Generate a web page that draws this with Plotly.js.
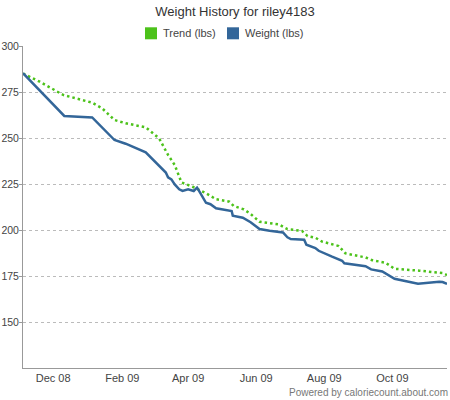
<!DOCTYPE html>
<html>
<head>
<meta charset="utf-8">
<script src="https://cdn.plot.ly/plotly-3.0.1.min.js"></script>
<style>html,body{margin:0;padding:0;background:#fff;}#chart{width:450px;height:400px;}</style>
</head>
<body>
<div id="chart"></div>
<script>
const weightDates = ["2008-11-04","2008-12-11","2009-01-05","2009-01-25","2009-02-04","2009-02-22","2009-03-12","2009-03-14","2009-03-17","2009-03-20","2009-03-24","2009-03-27","2009-04-01","2009-04-06","2009-04-09","2009-04-10","2009-04-17","2009-04-21","2009-04-26","2009-04-29","2009-05-10","2009-05-11","2009-05-20","2009-05-27","2009-06-04","2009-06-13","2009-06-25","2009-06-29","2009-07-02","2009-07-14","2009-07-16","2009-07-24","2009-07-27","2009-08-08","2009-08-17","2009-08-19","2009-09-07","2009-09-12","2009-09-22","2009-10-03","2009-10-14","2009-10-24","2009-11-12","2009-11-15","2009-11-19"];
const weightValues = [285.2,262.0,261.2,248.9,246.9,242.2,231.2,228.6,227.5,224.8,222.1,221.2,222.1,221.2,223.0,222.1,214.8,214.0,211.8,211.4,210.3,207.8,206.7,204.2,200.5,199.6,198.7,196.0,195.1,194.7,192.0,190.2,188.7,185.5,183.3,181.9,180.3,178.6,177.5,173.5,172.1,170.8,171.9,171.7,170.7];

const trendDates = ["2008-11-04","2008-11-19","2008-12-10","2009-01-05","2009-01-14","2009-01-25","2009-02-04","2009-02-22","2009-03-06","2009-03-14","2009-03-20","2009-03-26","2009-04-05","2009-04-17","2009-04-26","2009-05-08","2009-05-12","2009-05-21","2009-05-27","2009-06-04","2009-06-21","2009-06-29","2009-07-12","2009-07-17","2009-07-24","2009-07-30","2009-08-14","2009-08-20","2009-09-07","2009-09-13","2009-09-25","2009-10-03","2009-10-25","2009-11-15","2009-11-19"];
const trendValues = [285.0,280.6,273.4,269.2,266.1,259.8,258.0,255.8,249.8,240.8,235.3,225.9,223.5,220.0,216.7,215.4,213.0,211.2,208.7,204.5,203.1,200.5,199.5,196.7,195.8,193.7,191.3,187.3,185.1,183.6,182.2,178.9,177.9,176.6,175.5];

const seriesNames = ["Trend (lbs)", "Weight (lbs)"];
const seriesColors = ["#4cc21a", "#336699"];
const yTicks = [150, 175, 200, 225, 250, 275, 300];

const traces = [
  {x: trendDates, y: trendValues, type: "scatter", mode: "lines", name: seriesNames[0],
   line: {color: seriesColors[0], width: 2.5, dash: "2.5px,3px"}},
  {x: weightDates, y: weightValues, type: "scatter", mode: "lines", name: seriesNames[1],
   line: {color: seriesColors[1], width: 2.5}}
];

// legend drawn as swatches + labels above the plot (paper coordinates)
const legendSwatchX = [0.2877, 0.4811];
const legendTextX = [0.3255, 0.5189];
const shapes = seriesNames.map((n, i) => ({
  type: "rect", xref: "paper", yref: "paper",
  x0: legendSwatchX[i], x1: legendSwatchX[i] + 0.0283, y0: 1.0208, y1: 1.0581,
  fillcolor: seriesColors[i], line: {width: 0}
}));
const annotations = seriesNames.map((n, i) => ({
  text: n, xref: "paper", yref: "paper", x: legendTextX[i], xanchor: "left",
  y: 1.0394, yanchor: "middle", showarrow: false, font: {size: 11, color: "#444"}
}));
annotations.push({text: "Powered by caloriecount.about.com", xref: "paper", yref: "paper", x: 1, xanchor: "right",
  xshift: 3, y: -0.052, yanchor: "top", showarrow: false, font: {size: 10, color: "#777"}});

const layout = {
  width: 450, height: 400,
  margin: {l: 23, r: 3, t: 46, b: 32},
  paper_bgcolor: "#fff", plot_bgcolor: "#fff",
  font: {family: "Liberation Sans, Arial, sans-serif", size: 11, color: "#444"},
  title: {text: "Weight History for riley4183", xref: "paper", x: 0.5, xanchor: "center", y: 0.982, yanchor: "top",
          font: {size: 13, color: "#333"}},
  showlegend: false,
  xaxis: {type: "date", range: ["2008-11-04", "2009-11-19"], tick0: "2008-12-01", dtick: "M2",
          tickformat: "%b %y", showgrid: false, zeroline: false, showline: true, linecolor: "#999", linewidth: 1,
          ticks: "", ticklabelstandoff: 0, fixedrange: true},
  yaxis: {range: [125, 300], tickvals: yTicks, showgrid: true, gridcolor: "#bbb", griddash: "3px,3px", gridwidth: 1,
          zeroline: false, showline: true, linecolor: "#999", linewidth: 1, ticks: "outside", ticklen: 3,
          tickcolor: "#999", ticklabelstandoff: -2, tickfont: {size: 10.5}, fixedrange: true},
  shapes: shapes,
  annotations: annotations
};

Plotly.newPlot("chart", traces, layout, {displayModeBar: false, staticPlot: true});
</script>
</body>
</html>
